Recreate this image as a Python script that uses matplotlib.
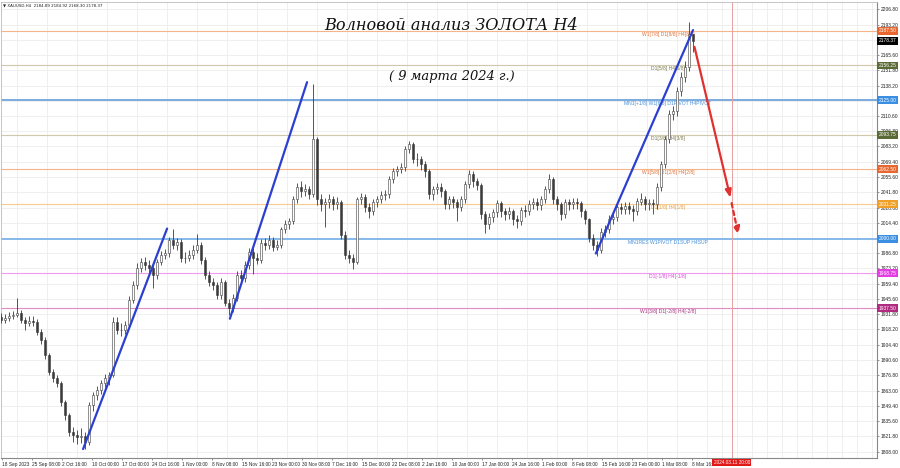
import numpy as np
import matplotlib
matplotlib.use("Agg")
import matplotlib.pyplot as plt

# XAUUSD H4, one candle here ~ 4 chart bars
first_open = 1929.5
closes = [
    1927.0, 1928.8, 1930.6, 1931.5, 1933.3, 1927.0, 1924.3, 1926.1, 1925.2, 1916.2,
    1908.9, 1895.4, 1880.0, 1874.6, 1870.1, 1852.9, 1841.2, 1825.8, 1823.1, 1821.3,
    1822.2, 1816.8, 1850.2, 1859.2, 1863.8, 1870.1, 1874.6, 1877.3, 1925.2, 1918.0,
    1918.0, 1922.5, 1945.1, 1958.6, 1974.0, 1979.4, 1976.7, 1974.0, 1967.7, 1979.4,
    1985.8, 1987.6, 1999.3, 1994.8, 1997.5, 1983.0, 1983.0, 1985.8, 1990.3, 1994.8,
    1981.2, 1967.7, 1961.4, 1958.6, 1949.6, 1961.4, 1942.4, 1937.9, 1946.9, 1967.7,
    1965.0, 1976.7, 1988.5, 1983.0, 1981.2, 1996.6, 1994.8, 1999.3, 1993.0, 1994.8,
    2008.4, 2012.9, 2015.6, 2035.5, 2046.3, 2042.7, 2044.5, 2040.0, 2089.7, 2035.5,
    2030.9, 2032.7, 2035.5, 2030.9, 2032.7, 2003.8, 1985.8, 1983.0, 1979.4, 2035.5,
    2037.3, 2028.2, 2024.6, 2032.7, 2035.5, 2039.1, 2040.0, 2053.5, 2060.8, 2062.6,
    2064.4, 2080.6, 2085.2, 2071.6, 2071.6, 2067.1, 2060.8, 2040.0, 2044.5, 2046.3,
    2042.7, 2030.9, 2035.5, 2032.7, 2028.2, 2035.5, 2049.0, 2058.1, 2051.7, 2048.1,
    2021.9, 2012.9, 2019.2, 2023.7, 2031.8, 2024.6, 2021.9, 2024.6, 2017.4, 2015.6,
    2025.5, 2024.6, 2030.9, 2032.7, 2030.0, 2035.5, 2044.5, 2053.5, 2035.5, 2030.9,
    2021.9, 2032.7, 2030.9, 2033.6, 2031.8, 2024.6, 2017.4, 2001.1, 1994.8, 1990.3,
    2006.5, 2008.4, 2017.4, 2019.2, 2028.2, 2026.4, 2029.1, 2026.4, 2024.6, 2033.6,
    2035.5, 2030.9, 2031.8, 2030.9, 2046.3, 2067.1, 2089.7, 2112.3, 2115.0, 2133.1,
    2145.7, 2155.0, 2184.89, 2178.37,
]
highs = [
    1933, 1932, 1934, 1935, 1947, 1936, 1929, 1930, 1930, 1928,
    1919, 1911, 1897, 1883, 1877, 1872, 1855, 1843, 1830, 1828,
    1829, 1826, 1853, 1862, 1867, 1873, 1878, 1880, 1929, 1929,
    1924, 1926, 1948, 1962, 1978, 1983, 1984, 1981, 1977, 1982,
    1989, 1991, 2002, 2009, 2001, 2000, 1988, 1990, 1994, 2004,
    1997, 1984, 1971, 1965, 1961, 1965, 1963, 1946, 1950, 1971,
    1972, 1980, 1992, 1992, 1987, 2000, 2001, 2003, 2002, 1999,
    2011, 2017, 2019, 2039, 2050, 2052, 2049, 2048, 2140, 2092,
    2040, 2037, 2040, 2039, 2038, 2035, 2007, 1990, 1986, 2038,
    2041, 2040, 2032, 2036, 2039, 2043, 2044, 2057, 2064, 2066,
    2068, 2084, 2088, 2087, 2077, 2075, 2070, 2063, 2048, 2050,
    2050, 2045, 2039, 2039, 2036, 2039, 2052, 2062, 2061, 2055,
    2050, 2025, 2023, 2027, 2035, 2034, 2028, 2029, 2027, 2021,
    2029, 2030, 2035, 2037, 2037, 2039, 2048, 2058, 2056, 2039,
    2033, 2036, 2036, 2037, 2037, 2034, 2027, 2019, 2004, 1998,
    2010, 2012, 2021, 2023, 2032, 2032, 2033, 2033, 2030, 2037,
    2041, 2039, 2036, 2036, 2050, 2070, 2093, 2116, 2120, 2137,
    2150, 2160, 2195.2, 2184.92,
]
lows = [
    1924, 1924, 1926, 1928, 1929, 1924, 1918, 1921, 1921, 1913,
    1905, 1892, 1877, 1871, 1866, 1849, 1837, 1822, 1817, 1815,
    1816, 1810.5, 1814, 1845, 1855, 1860, 1866, 1868, 1875, 1914,
    1912, 1914, 1920, 1942, 1955, 1970, 1972, 1968, 1956, 1964,
    1976, 1982, 1984, 1991, 1990, 1979, 1978, 1980, 1982, 1987,
    1977, 1964, 1957, 1954, 1946, 1946, 1939, 1931.5, 1934, 1944,
    1960, 1961, 1973, 1968, 1977, 1978, 1990, 1991, 1989, 1990,
    1992, 2005, 2009, 2013, 2032, 2038, 2039, 2036, 2038, 2030,
    2025, 2011, 2028, 2026, 2027, 2000, 1982, 1978, 1973, 1977,
    2031, 2024, 2019, 2021, 2029, 2032, 2035, 2037, 2050, 2057,
    2059, 2061, 2077, 2068, 2066, 2062, 2056, 2036, 2035, 2040,
    2038, 2027, 2027, 2028, 2015.6, 2025, 2032, 2046, 2047, 2044,
    2018, 2005.6, 2009, 2015, 2020, 2020, 2017, 2018, 2012, 2010,
    2012, 2020, 2021, 2027, 2026, 2026, 2032, 2041, 2031, 2026,
    2017, 2019, 2026, 2027, 2027, 2020, 2013, 1997, 1990, 1984.3,
    1987, 2002, 2005, 2013, 2016, 2022, 2022, 2022, 2016, 2021,
    2030, 2026, 2026, 2022, 2027, 2043, 2064, 2086, 2107, 2111,
    2129, 2141, 2151, 2168.30,
]
last_price = 2178.37

# Murrey levels
level_prices = [2187.50, 2156.25, 2125.00, 2093.75, 2062.50, 2031.25, 2000.00, 1968.75, 1937.50]
level_names = [
    "W1[7/8] D1[8/8] H4[8/8]",
    "D1[5/8] H4[5/8]",
    "MN1[+1/8] W1[6/8] D1PIVOT H4PIVOT",
    "D1[3/8] H4[3/8]",
    "W1[5/8] D1[2/8] H4[2/8]",
    "D1[1/8] H4[1/8]",
    "MN1RES W1PIVOT D1SUP H4SUP",
    "D1[-1/8] H4[-1/8]",
    "W1[3/8] D1[-2/8] H4[-2/8]",
]
level_line_colors = ["#f5b48a", "#cfc8ad", "#6fa6dc", "#cfc8ad", "#f5b48a",
                     "#f7c98f", "#7db4e8", "#f29af0", "#de8cc4"]
level_text_colors = ["#e0733a", "#7d7a4e", "#4a90d9", "#7d7a4e", "#e0733a",
                     "#e8a040", "#4a90d9", "#d84ad8", "#a8307e"]
level_box_colors = ["#e8672f", "#5b6b35", "#3b8fe3", "#5b6b35", "#e8672f",
                    "#f0a028", "#3b8fe3", "#e23ee2", "#b02a7f"]

# wave lines (candle index, price)
wave_x = [(20.4, 41.4), (57.1, 76.4), (148.6, 172.9)]
wave_p = [(1810.4, 2009.2), (1927.9, 2141.2), (1986.7, 2188.2)]
fcast_x = [173.1, 182.4, 184.4]
fcast_p = [2175.5, 2034.6, 2001.1]
now_x = 182.6

price_ticks = [2206.80, 2193.20, 2179.60, 2165.60, 2151.80, 2138.20, 2124.40, 2110.60,
               2096.80, 2083.20, 2069.40, 2055.60, 2041.80, 2028.00, 2014.40, 2000.60,
               1986.80, 1973.20, 1959.40, 1945.60, 1931.80, 1918.20, 1904.40, 1890.60,
               1876.80, 1863.00, 1849.40, 1835.60, 1821.80, 1808.00]
hidden_ticks = [2179.60, 2124.40, 2000.60]
time_labels = ["18 Sep 2023", "25 Sep 08:00", "2 Oct 16:00", "10 Oct 00:00", "17 Oct 00:00",
               "24 Oct 16:00", "1 Nov 00:00", "8 Nov 08:00", "15 Nov 16:00", "23 Nov 00:00",
               "30 Nov 08:00", "7 Dec 16:00", "15 Dec 00:00", "22 Dec 08:00", "2 Jan 16:00",
               "10 Jan 00:00", "17 Jan 00:00", "24 Jan 16:00", "1 Feb 00:00", "8 Feb 08:00",
               "15 Feb 16:00", "23 Feb 00:00", "1 Mar 08:00", "8 Mar 16:00"]
now_label = "2024.03.11 20:00"

plt.rcParams["font.family"] = ["Liberation Sans", "DejaVu Sans"]

fig = plt.figure(figsize=(9, 4.68), dpi=100)
ax = fig.add_axes([1 / 900, 10 / 468, 876 / 900, 456 / 468])
ax.set_xlim(-0.125, 218.9)
ax.set_ylim(1802.3, 2213.5)

# grid + axes
tick_x = 0.05 + 7.5 * np.arange(len(time_labels))
ax.set_xticks(tick_x)
ax.set_xticks(0.05 + 3.75 * np.arange(59), minor=True)
ax.set_xticklabels(time_labels, fontsize=3.4, color="#222", ha="left")
ax.set_yticks(price_ticks)
ax.set_yticklabels(["" if p in hidden_ticks else f"{p:.2f}" for p in price_ticks],
                   fontsize=3.5, color="#222")
ax.yaxis.tick_right()
ax.tick_params(axis="y", length=1.5, width=0.5, color="#666", pad=1.2)
ax.tick_params(axis="x", which="major", length=1.5, width=0.5, color="#666", pad=1.2)
ax.tick_params(axis="x", which="minor", length=0)
ax.grid(True, axis="x", which="minor", color="#ececec", lw=0.6)
ax.grid(True, axis="y", which="major", color="#ececec", lw=0.6)
ax.set_axisbelow(True)
for s in ["left", "top"]:
    ax.spines[s].set_color("#bbbbbb")
    ax.spines[s].set_linewidth(0.6)
for s in ["right", "bottom"]:
    ax.spines[s].set_color("#888888")
    ax.spines[s].set_linewidth(0.8)

# levels
for p, name, lc, tc, bc in zip(level_prices, level_names, level_line_colors,
                               level_text_colors, level_box_colors):
    lw = 1.3 if p in (2000.00, 2125.00) else 0.8
    ax.axhline(p, color=lc, lw=lw, zorder=1)
    ax.text(166.6, p - 0.8, name, fontsize=3.6, color=tc, ha="center", va="top", zorder=2)
    ax.annotate(f"{p:.2f}", xy=(1.0, p), xycoords=("axes fraction", "data"),
                xytext=(1.4, 0), textcoords="offset points", fontsize=3.5, color="white",
                ha="left", va="center", annotation_clip=False, zorder=10,
                bbox=dict(boxstyle="square,pad=0.3", fc=bc, ec="none"))
ax.annotate(f"{last_price:.2f}", xy=(1.0, last_price), xycoords=("axes fraction", "data"),
            xytext=(1.4, 0), textcoords="offset points", fontsize=3.5, color="white",
            ha="left", va="center", annotation_clip=False, zorder=10,
            bbox=dict(boxstyle="square,pad=0.3", fc="black", ec="none"))

# candles
n = len(closes)
xs = np.arange(n)
opens = np.array([first_open] + closes[:-1])
closes_a = np.array(closes)
ax.vlines(xs, lows, highs, color="#3a3a3a", lw=0.6, zorder=3)
bull = closes_a >= opens
ax.bar(xs[bull], (closes_a - opens)[bull], bottom=opens[bull], width=0.5,
       color="white", edgecolor="#3a3a3a", lw=0.4, zorder=4)
ax.bar(xs[~bull], (closes_a - opens)[~bull], bottom=opens[~bull], width=0.5,
       color="#3a3a3a", edgecolor="#3a3a3a", lw=0.4, zorder=4)

# wave lines
for (x0, x1), (p0, p1) in zip(wave_x, wave_p):
    ax.plot([x0, x1], [p0, p1], color="#2b3fd0", lw=1.6, zorder=5, solid_capstyle="round")

# forecast arrows
ax.annotate("", xy=(fcast_x[1], fcast_p[1]), xytext=(fcast_x[0], fcast_p[0]),
            arrowprops=dict(arrowstyle="-|>,head_length=0.45,head_width=0.18",
                            color="#e03030", lw=1.6), zorder=6)
ax.annotate("", xy=(fcast_x[2], fcast_p[2]), xytext=(fcast_x[1], fcast_p[1]),
            arrowprops=dict(arrowstyle="-|>,head_length=0.45,head_width=0.18",
                            color="#e03030", lw=1.6, linestyle=(0, (2, 1.5))), zorder=6)

# current time line
ax.axvline(now_x, color="#e8a0a0", lw=0.7, zorder=2)
ax.annotate(now_label, xy=(now_x, 0), xycoords=("data", "axes fraction"),
            xytext=(0, -3.2), textcoords="offset points", fontsize=3.4, color="white",
            ha="center", va="center", annotation_clip=False, zorder=10,
            bbox=dict(boxstyle="square,pad=0.3", fc="#e01818", ec="none"))

# header text
ax.text(0.002, 0.996, "\u25bc XAUUSD,H4  2184.89 2184.92 2168.30 2178.37",
        transform=ax.transAxes, fontsize=2.9, color="#222", ha="left", va="top",
        family=["DejaVu Sans"])
ax.text(0.514, 0.948, "Волновой анализ ЗОЛОТА Н4", transform=ax.transAxes,
        fontsize=11.6, family="DejaVu Serif", style="italic", color="#111",
        ha="center", va="center")
ax.text(0.515, 0.836, "( 9 марта 2024 г.)", transform=ax.transAxes,
        fontsize=9.4, family="DejaVu Serif", style="italic", color="#111",
        ha="center", va="center")

fig.savefig("out.png", dpi=100)
